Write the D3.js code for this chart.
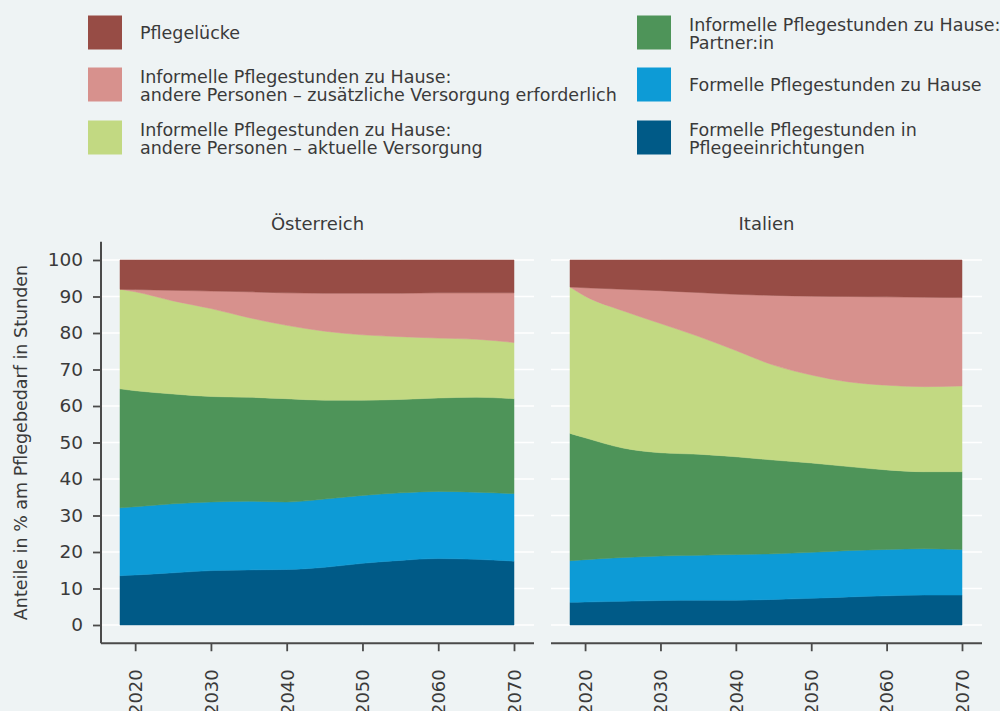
<!DOCTYPE html>
<html>
<head>
<meta charset="utf-8">
<script src="https://cdn.jsdelivr.net/npm/d3@7"></script>
<style>
  body { margin: 0; background: #eef3f4; }
  svg { display: block; font-family: "DejaVu Sans", sans-serif; }
</style>
</head>
<body>
<script>
// years of the projection
var years = [2018, 2020, 2025, 2030, 2035, 2040, 2045, 2050, 2055, 2060, 2065, 2070];
var yearTicks = [2020, 2030, 2040, 2050, 2060, 2070];
var yTicks = [0, 10, 20, 30, 40, 50, 60, 70, 80, 90, 100];

// series, bottom to top
var keys = ["einr", "formHaus", "partner", "aktuell", "zusatz", "luecke"];
var colors = {
    einr: "#005a87",
    formHaus: "#0d9bd6",
    partner: "#4e9459",
    aktuell: "#c2d982",
    zusatz: "#d7918d",
    luecke: "#974c45"
};
var labels = {
    luecke: ["Pflegelücke"],
    zusatz: ["Informelle Pflegestunden zu Hause:", "andere Personen – zusätzliche Versorgung erforderlich"],
    aktuell: ["Informelle Pflegestunden zu Hause:", "andere Personen – aktuelle Versorgung"],
    partner: ["Informelle Pflegestunden zu Hause:", "Partner:in"],
    formHaus: ["Formelle Pflegestunden zu Hause"],
    einr: ["Formelle Pflegestunden in", "Pflegeeinrichtungen"]
};

// Österreich, shares in %
var atEinr     = [13.5, 13.7, 14.3, 14.9, 15.1, 15.2, 15.8, 16.9, 17.7, 18.2, 18.0, 17.5];
var atFormHaus = [18.6, 18.7, 18.9, 18.8, 18.8, 18.5, 18.7, 18.6, 18.5, 18.4, 18.4, 18.5];
var atPartner  = [32.6, 31.8, 30.1, 28.9, 28.5, 28.3, 27.1, 26.1, 25.6, 25.6, 26.0, 26.0];
var atAktuell  = [27.3, 27.1, 25.5, 24.1, 21.8, 20.1, 18.9, 17.9, 17.2, 16.4, 15.9, 15.4];
var atZusatz   = [0.0, 0.6, 2.9, 4.8, 7.1, 8.9, 10.4, 11.4, 11.9, 12.4, 12.7, 13.6];
var atLuecke   = [8.0, 8.1, 8.3, 8.5, 8.7, 9.0, 9.1, 9.1, 9.1, 9.0, 9.0, 9.0];

// Italien, shares in %
var itEinr     = [6.2, 6.3, 6.5, 6.7, 6.8, 6.8, 7.0, 7.3, 7.7, 8.0, 8.2, 8.2];
var itFormHaus = [11.4, 11.6, 12.0, 12.2, 12.3, 12.5, 12.5, 12.6, 12.7, 12.7, 12.7, 12.5];
var itPartner  = [34.9, 33.4, 30.0, 28.3, 27.7, 26.8, 25.7, 24.5, 23.0, 21.8, 21.1, 21.3];
var itAktuell  = [40.1, 38.8, 37.6, 35.4, 32.3, 29.1, 26.0, 24.1, 23.2, 23.2, 23.3, 23.5];
var itZusatz   = [0.0, 2.3, 5.9, 9.0, 12.0, 15.4, 19.1, 21.6, 23.4, 24.2, 24.5, 24.2];
var itLuecke   = [7.4, 7.6, 8.0, 8.4, 8.9, 9.4, 9.7, 9.9, 10.0, 10.1, 10.2, 10.3];

function table(einr, formHaus, partner, aktuell, zusatz, luecke) {
    return years.map(function (yr, i) {
        return {year: yr, einr: einr[i], formHaus: formHaus[i], partner: partner[i],
                aktuell: aktuell[i], zusatz: zusatz[i], luecke: luecke[i]};
    });
}

var panels = [
    {title: "Österreich", rows: table(atEinr, atFormHaus, atPartner, atAktuell, atZusatz, atLuecke),
     left: 101, right: 534, x0: 120, x1: 514, yAxis: true},
    {title: "Italien", rows: table(itEinr, itFormHaus, itPartner, itAktuell, itZusatz, itLuecke),
     left: 551, right: 982, x0: 570, x1: 962, yAxis: false}
];

var textColor = "#3a3a3a";
var axisColor = "#4a4a4a";

var svg = d3.select("body")
    .append("svg")
    .attr("width", 1000)
    .attr("height", 711);

svg.append("rect")
    .attr("width", 1000)
    .attr("height", 711)
    .attr("fill", "#eef3f4");

var y = d3.scaleLinear().domain([0, 100]).range([625, 260]);
var stack = d3.stack().keys(keys);

panels.forEach(function (p) {
    var x = d3.scaleLinear().domain([2018, 2070]).range([p.x0, p.x1]);
    var g = svg.append("g");

    // white grid
    g.selectAll(".grid")
        .data(yTicks)
        .enter()
        .append("line")
        .attr("class", "grid")
        .attr("x1", p.left)
        .attr("x2", p.right)
        .attr("y1", d => y(d))
        .attr("y2", d => y(d))
        .attr("stroke", "#ffffff")
        .attr("stroke-width", 1.5);

    var area = d3.area()
        .curve(d3.curveMonotoneX)
        .x(d => x(d.data.year))
        .y0(d => y(d[0]))
        .y1(d => y(d[1]));

    g.selectAll(".layer")
        .data(stack(p.rows))
        .enter()
        .append("path")
        .attr("class", "layer")
        .attr("d", area)
        .attr("fill", d => colors[d.key])
        .attr("stroke", d => colors[d.key])
        .attr("stroke-width", 0.5);

    // title
    g.append("text")
        .attr("x", (p.left + p.right) / 2)
        .attr("y", 230)
        .attr("text-anchor", "middle")
        .attr("font-size", 18)
        .attr("fill", textColor)
        .text(p.title);

    // x axis
    var xa = g.append("g")
        .attr("transform", "translate(0," + y(-5) + ")")
        .call(d3.axisBottom(x).tickValues(yearTicks).tickSize(8).tickFormat(d3.format("d")));
    xa.select(".domain").remove();
    xa.selectAll("line").attr("stroke", axisColor).attr("stroke-width", 1.8);
    xa.selectAll("text")
        .attr("y", 0)
        .attr("x", -26)
        .attr("dy", "0.35em")
        .attr("transform", "rotate(-90)")
        .style("text-anchor", "end")
        .attr("font-size", 18)
        .attr("font-family", "DejaVu Sans")
        .attr("fill", textColor);
    xa.append("line")
        .attr("x1", p.left)
        .attr("x2", p.right)
        .attr("stroke", axisColor)
        .attr("stroke-width", 2);

    if (p.yAxis) {
        var ya = g.append("g")
            .attr("transform", "translate(" + p.left + ",0)")
            .call(d3.axisLeft(y).tickValues(yTicks).tickSize(8).tickPadding(10));
        ya.select(".domain").remove();
        ya.selectAll("line").attr("stroke", axisColor).attr("stroke-width", 1.8);
        ya.selectAll("text")
            .attr("font-size", 18.5)
            .attr("font-family", "DejaVu Sans")
            .attr("fill", textColor);
        ya.append("line")
            .attr("y1", y(105))
            .attr("y2", y(-5))
            .attr("stroke", axisColor)
            .attr("stroke-width", 2);
    }
});

// y axis title
svg.append("text")
    .attr("transform", "translate(27," + y(50) + ") rotate(-90)")
    .attr("text-anchor", "middle")
    .attr("font-size", 17.5)
    .attr("fill", textColor)
    .text("Anteile in % am Pflegebedarf in Stunden");

// legend
var legendCols = [
    {x: 88, keys: ["luecke", "zusatz", "aktuell"]},
    {x: 637, keys: ["partner", "formHaus", "einr"]}
];
var rowCenters = [32.5, 84.5, 137.5];

legendCols.forEach(function (col) {
    col.keys.forEach(function (k, i) {
        var cy = rowCenters[i];
        svg.append("rect")
            .attr("x", col.x)
            .attr("y", cy - 17)
            .attr("width", 34)
            .attr("height", 34)
            .attr("fill", colors[k]);
        var lines = labels[k];
        var t = svg.append("text")
            .attr("x", col.x + 52)
            .attr("font-size", 17.5)
            .attr("fill", textColor);
        lines.forEach(function (line, j) {
            var base = lines.length === 1 ? cy + 6 : cy - 2 + j * 18;
            t.append("tspan")
                .attr("x", col.x + 52)
                .attr("y", base)
                .text(line);
        });
    });
});
</script>
</body>
</html>
